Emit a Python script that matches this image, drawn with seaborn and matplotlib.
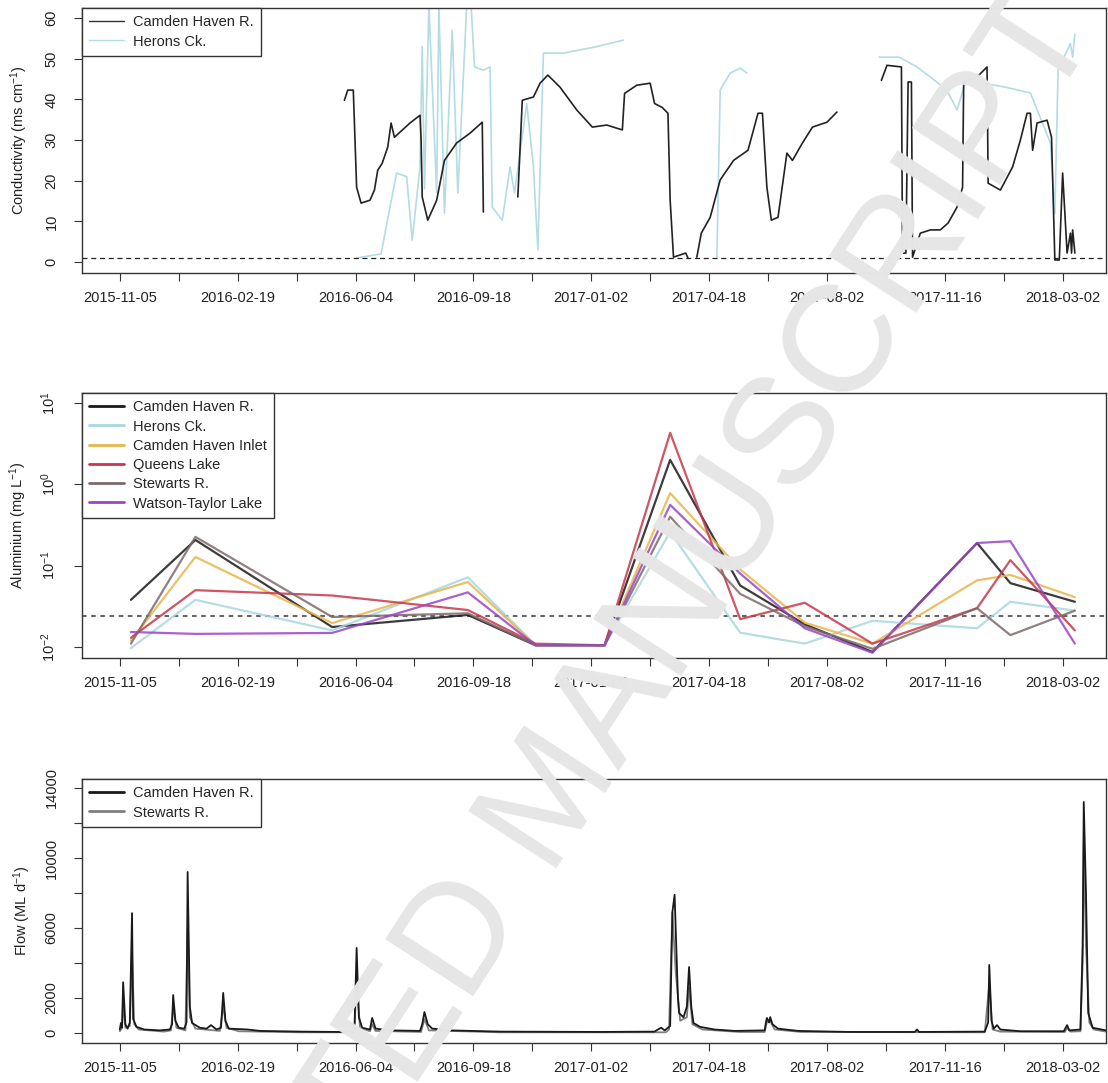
import numpy as np
import pandas as pd
import matplotlib
matplotlib.use("Agg")
import matplotlib.pyplot as plt
from matplotlib.lines import Line2D
import seaborn as sns

NA = np.nan

# ---------------- Conductivity (ms cm-1) ----------------
camden_cond_dates = [
    "2016-05-25", "2016-05-28", "2016-06-02", "2016-06-05", "2016-06-09", "2016-06-17",
    "2016-06-21", "2016-06-24", "2016-06-28", "2016-07-03", "2016-07-06", "2016-07-09",
    "2016-07-23", "2016-08-01", "2016-08-02", "2016-08-03", "2016-08-08", "2016-08-16",
    "2016-08-23", "2016-09-03", "2016-09-15", "2016-09-26", "2016-09-27", "2016-10-10",
    "2016-10-28", "2016-11-01", "2016-11-11", "2016-11-17", "2016-11-24", "2016-12-05",
    "2016-12-20", "2017-01-03", "2017-01-16", "2017-01-30", "2017-02-01", "2017-02-12",
    "2017-02-24", "2017-02-28", "2017-03-07", "2017-03-12", "2017-03-14", "2017-03-17",
    "2017-03-28", "2017-03-30", "2017-04-03", "2017-04-07", "2017-04-11", "2017-04-19",
    "2017-04-28", "2017-05-10", "2017-05-23", "2017-06-01", "2017-06-05", "2017-06-09",
    "2017-06-13", "2017-06-19", "2017-06-27", "2017-07-02", "2017-07-11", "2017-07-20",
    "2017-08-02", "2017-08-11", "2017-09-01", "2017-09-20", "2017-09-25", "2017-10-08",
    "2017-10-09", "2017-10-12", "2017-10-14", "2017-10-17", "2017-10-18", "2017-10-25",
    "2017-11-03", "2017-11-12", "2017-11-19", "2017-11-27", "2017-12-02", "2017-12-03",
    "2017-12-15", "2017-12-24", "2017-12-25", "2018-01-05", "2018-01-16", "2018-01-23",
    "2018-01-29", "2018-02-01", "2018-02-03", "2018-02-07", "2018-02-16", "2018-02-20",
    "2018-02-23", "2018-02-27", "2018-03-02", "2018-03-06", "2018-03-09", "2018-03-10",
    "2018-03-11", "2018-03-13",
]
camden_cond_values = [
    39.8, 42.3, 42.3, 18.4, 14.5, 15.2,
    17.7, 22.6, 24.3, 28.3, 34.2, 30.7,
    34.2, 36.1, 30.0, 16.0, 10.3, 15.2,
    25.0, 29.3, 31.7, 34.4, 12.3, NA,
    16.0, 39.8, 40.6, 44.0, 46.0, 43.0,
    37.4, 33.2, 33.7, 32.5, 41.5, 43.5,
    44.0, 39.0, 38.0, 36.6, 15.2, 1.2,
    2.2, 1.0, NA, 1.2, 7.1, 11.0,
    20.2, 25.0, 27.5, 36.6, 36.6, 18.4,
    10.3, 11.0, 26.8, 25.0, 29.3, 33.2,
    34.4, 36.9, NA, 44.7, 48.4, 48.0,
    2.2, 2.2, 44.3, 44.3, 1.2, 7.1,
    7.9, 7.9, 9.6, 13.5, 18.4, 44.3,
    45.5, 48.0, 19.4, 17.7, 23.4, 30.0,
    36.6, 36.6, 27.5, 34.2, 34.9, 30.7,
    0.5, 0.5, 21.9, 2.2, 7.1, 2.2,
    7.9, 2.2,
]

herons_cond_dates = [
    "2016-06-05", "2016-06-27", "2016-07-05", "2016-07-11", "2016-07-20", "2016-07-25",
    "2016-08-01", "2016-08-03", "2016-08-05", "2016-08-09", "2016-08-16", "2016-08-18",
    "2016-08-23", "2016-08-30", "2016-09-04", "2016-09-12", "2016-09-16", "2016-09-19",
    "2016-09-27", "2016-10-03", "2016-10-05", "2016-10-14", "2016-10-21", "2016-10-25",
    "2016-11-05", "2016-11-11", "2016-11-15", "2016-11-20", "2016-12-08", "2017-01-07",
    "2017-01-31", "2017-03-15", "2017-04-25", "2017-04-28", "2017-05-07", "2017-05-16",
    "2017-05-22", "2017-07-15", "2017-09-18", "2017-10-06", "2017-10-22", "2017-11-03",
    "2017-11-18", "2017-11-27", "2017-12-06", "2017-12-20", "2018-01-10", "2018-02-01",
    "2018-02-19", "2018-02-23", "2018-02-26", "2018-03-02", "2018-03-09", "2018-03-11",
    "2018-03-13",
]
herons_cond_values = [
    1.0, 2.0, 13.5, 21.9, 21.0, 5.4,
    23.4, 53.0, 18.0, 63.0, 17.0, 63.0,
    12.0, 57.0, 17.0, 63.0, 63.0, 48.0,
    47.2, 48.0, 13.5, 10.3, 23.4, 17.0,
    39.0, 23.4, 3.0, 51.4, 51.4, 53.0,
    54.6, NA, 1.2, 42.3, 46.5, 47.7,
    46.5, NA, 50.4, 50.4, 48.0, 45.5,
    42.3, 37.4, 45.5, 44.0, 43.0, 41.6,
    29.3, 12.0, 48.0, 49.7, 53.8, 50.4,
    56.0,
]
cond_guideline = 1.0

# ---------------- Aluminium (mg L-1) ----------------
al_dates = [
    "2015-11-15", "2016-01-12", "2016-05-14", "2016-09-13", "2016-11-13", "2017-01-14",
    "2017-03-14", "2017-05-16", "2017-07-13", "2017-09-12", "2017-12-15", "2018-01-14",
    "2018-03-13",
]
al_sites = ["Camden Haven R.", "Herons Ck.", "Camden Haven Inlet", "Queens Lake",
            "Stewarts R.", "Watson-Taylor Lake"]
al_camden = [0.038, 0.207, 0.0176, 0.0248, 0.0105, 0.0105, 2.0, 0.057, 0.019, 0.0087, 0.19, 0.061, 0.036]
al_herons = [0.0097, 0.038, 0.016, 0.072, 0.0105, 0.0105, 0.26, 0.015, 0.011, 0.021, 0.017, 0.036, 0.028]
al_inlet = [0.012, 0.128, 0.0197, 0.063, 0.0105, 0.0105, 0.78, 0.09, 0.02, 0.011, 0.066, 0.077, 0.041]
al_queens = [0.013, 0.050, 0.043, 0.0285, 0.011, 0.0105, 4.3, 0.022, 0.035, 0.011, 0.030, 0.117, 0.016]
al_stewarts = [0.011, 0.226, 0.0234, 0.026, 0.0105, 0.0105, 0.40, 0.045, 0.018, 0.0095, 0.030, 0.014, 0.028]
al_watson = [0.0153, 0.0145, 0.0149, 0.047, 0.0105, 0.0105, 0.56, 0.08, 0.017, 0.0085, 0.19, 0.20, 0.011]
al_guideline = 0.024

# ---------------- Flow (ML d-1) ----------------
camden_flow_dates = [
    "2015-11-05", "2015-11-06", "2015-11-07", "2015-11-08", "2015-11-10", "2015-11-12",
    "2015-11-14", "2015-11-16", "2015-11-17", "2015-11-20", "2015-11-27", "2015-12-11",
    "2015-12-20", "2015-12-22", "2015-12-23", "2015-12-25", "2015-12-28", "2016-01-02",
    "2016-01-04", "2016-01-05", "2016-01-07", "2016-01-09", "2016-01-16", "2016-01-22",
    "2016-01-26", "2016-01-31", "2016-02-04", "2016-02-06", "2016-02-08", "2016-02-11",
    "2016-02-28", "2016-03-10", "2016-04-15", "2016-05-21", "2016-06-03", "2016-06-05",
    "2016-06-07", "2016-06-10", "2016-06-17", "2016-06-19", "2016-06-22", "2016-07-05",
    "2016-08-01", "2016-08-03", "2016-08-05", "2016-08-08", "2016-08-12", "2016-08-28",
    "2016-10-12", "2017-01-10", "2017-02-28", "2017-03-03", "2017-03-06", "2017-03-09",
    "2017-03-14", "2017-03-16", "2017-03-18", "2017-03-21", "2017-03-22", "2017-03-26",
    "2017-03-29", "2017-03-31", "2017-04-02", "2017-04-04", "2017-04-10", "2017-04-23",
    "2017-05-11", "2017-06-07", "2017-06-08", "2017-06-09", "2017-06-11", "2017-06-12",
    "2017-06-14", "2017-06-19", "2017-07-07", "2017-08-23", "2017-10-20", "2017-10-22",
    "2017-10-24", "2017-12-22", "2017-12-25", "2017-12-26", "2017-12-28", "2017-12-30",
    "2018-01-02", "2018-01-05", "2018-01-23", "2018-03-03", "2018-03-06", "2018-03-08",
    "2018-03-18", "2018-03-20", "2018-03-21", "2018-03-23", "2018-03-25", "2018-03-29",
    "2018-04-10",
]
camden_flow_values = [
    200, 570, 300, 2900, 500, 250,
    600, 6850, 800, 350, 200, 150,
    200, 500, 2170, 700, 300, 250,
    600, 9200, 1500, 570, 300, 250,
    450, 200, 300, 2290, 700, 250,
    200, 120, 80, 60, 80, 4860,
    900, 300, 200, 860, 250, 150,
    120, 500, 1200, 500, 250, 150,
    80, 60, 80, 200, 300, 150,
    400, 6900, 7900, 2000, 1140, 900,
    1500, 3770, 1500, 570, 350, 200,
    120, 150, 570, 860, 600, 910,
    500, 250, 120, 60, 60, 200,
    60, 80, 600, 3890, 700, 250,
    450, 200, 100, 100, 450, 150,
    200, 5000, 13200, 8000, 1140, 300,
    150,
]
stewarts_flow_dates = [
    "2015-11-05", "2015-11-07", "2015-11-08", "2015-11-10", "2015-11-14", "2015-11-16",
    "2015-11-18", "2015-11-22", "2015-12-15", "2015-12-21", "2015-12-23", "2015-12-26",
    "2016-01-03", "2016-01-05", "2016-01-07", "2016-01-12", "2016-02-03", "2016-02-06",
    "2016-02-09", "2016-02-20", "2016-04-15", "2016-06-03", "2016-06-05", "2016-06-08",
    "2016-06-17", "2016-06-19", "2016-06-22", "2016-08-02", "2016-08-05", "2016-08-09",
    "2016-10-12", "2017-03-10", "2017-03-13", "2017-03-16", "2017-03-19", "2017-03-23",
    "2017-03-29", "2017-03-31", "2017-04-03", "2017-04-12", "2017-05-15", "2017-06-07",
    "2017-06-09", "2017-06-12", "2017-06-16", "2017-07-10", "2017-12-22", "2017-12-26",
    "2017-12-29", "2018-01-05", "2018-03-04", "2018-03-06", "2018-03-09", "2018-03-18",
    "2018-03-20", "2018-03-21", "2018-03-23", "2018-03-26", "2018-03-30", "2018-04-10",
]
stewarts_flow_values = [
    100, 300, 1800, 300, 400, 4500,
    500, 200, 80, 150, 1500, 300,
    150, 6000, 900, 250, 120, 1500,
    300, 100, 40, 40, 3200, 300,
    100, 500, 120, 60, 800, 150,
    40, 40, 200, 6900, 3500, 700,
    900, 2600, 500, 200, 60, 60,
    600, 700, 200, 60, 40, 2800,
    200, 80, 60, 300, 80, 100,
    4000, 11000, 5000, 600, 200, 80,
]

# ---------------- axis settings ----------------
x_start = "2015-10-02"
x_end = "2018-04-10"
tick_start = "2015-11-05"

colors = {
    "Camden Haven R.": "#1a1a1a",
    "Herons Ck.": "#a9d6e0",
    "Camden Haven Inlet": "#e8b54c",
    "Queens Lake": "#c8374a",
    "Stewarts R.": "#7d6a6a",
    "Watson-Taylor Lake": "#9a45c8",
}

sns.set_theme(style="ticks")
plt.rcParams["font.family"] = ["Liberation Sans", "DejaVu Sans"]
plt.rcParams["mathtext.fontset"] = "custom"
plt.rcParams["mathtext.rm"] = "Liberation Sans"
plt.rcParams["mathtext.it"] = "Liberation Sans:italic"
plt.rcParams["mathtext.default"] = "regular"

FS = 10.5
W, H = 1108, 1083
fig = plt.figure(figsize=(W / 100, H / 100), dpi=100)


def rect(top, bottom, left=82, right=1106):
    return [left / W, 1 - bottom / H, (right - left) / W, (bottom - top) / H]


ax1 = fig.add_axes(rect(8, 273))
ax2 = fig.add_axes(rect(393, 658))
ax3 = fig.add_axes(rect(779, 1043))


def seg_frame(dates, values, name):
    v = np.array(values, dtype=float)
    df = pd.DataFrame({"date": pd.to_datetime(dates), "value": v, "site": name,
                       "seg": np.cumsum(np.isnan(v))})
    return df.dropna()


tick_dates = pd.date_range(tick_start, periods=17, freq="53D")
tick_labels = [d.strftime("%Y-%m-%d") if i % 2 == 0 else "" for i, d in enumerate(tick_dates)]


def style(ax):
    ax.set_xlim(pd.Timestamp(x_start), pd.Timestamp(x_end))
    ax.set_xticks(tick_dates)
    ax.set_xticklabels(tick_labels)
    ax.tick_params(axis="both", direction="out", length=6, width=0.8, color="#333333",
                   labelsize=FS, labelcolor="#222222")
    ax.tick_params(axis="x", pad=7)
    ax.tick_params(axis="y", pad=11, labelrotation=90)
    for lab in ax.get_yticklabels():
        lab.set_va("center")
    for s in ax.spines.values():
        s.set_visible(True)
        s.set_color("#333333")
        s.set_linewidth(1.0)
    ax.set_xlabel("")
    ax.grid(False)


def legend(ax, names, lw, cols):
    handles = [Line2D([0], [0], color=cols[n], lw=lw) for n in names]
    leg = ax.legend(handles, names, loc="upper left", borderaxespad=0, frameon=True,
                    fancybox=False, framealpha=1, edgecolor="#333333", fontsize=FS,
                    handlelength=2.4, handletextpad=0.6, labelspacing=0.36,
                    borderpad=0.5)
    leg.get_frame().set_linewidth(1.0)
    leg.set_zorder(5)


# ---- Panel 1: conductivity ----
df_h = seg_frame(herons_cond_dates, herons_cond_values, "Herons Ck.")
df_c = seg_frame(camden_cond_dates, camden_cond_values, "Camden Haven R.")
sns.lineplot(data=df_h, x="date", y="value", units="seg", estimator=None,
             color="#b3dce4", lw=1.2, ax=ax1, legend=False)
sns.lineplot(data=df_c, x="date", y="value", units="seg", estimator=None,
             color="#222222", lw=1.2, ax=ax1, legend=False)
ax1.axhline(cond_guideline, color="#222222", ls=(0, (4, 3)), lw=0.9)
ax1.set_ylim(-2.7, 62.5)
ax1.set_yticks([0, 10, 20, 30, 40, 50, 60])
ax1.set_ylabel("Conductivity (ms cm$^{-1}$)", fontsize=FS, labelpad=10, color="#222222")
style(ax1)
legend(ax1, ["Camden Haven R.", "Herons Ck."], 1.0,
       {"Camden Haven R.": "#333333", "Herons Ck.": "#b3dce4"})

# ---- Panel 2: aluminium ----
al_table = {"Camden Haven R.": al_camden, "Herons Ck.": al_herons,
            "Camden Haven Inlet": al_inlet, "Queens Lake": al_queens,
            "Stewarts R.": al_stewarts, "Watson-Taylor Lake": al_watson}
df_al = pd.concat([pd.DataFrame({"date": pd.to_datetime(al_dates), "value": v, "site": k})
                   for k, v in al_table.items()])
sns.lineplot(data=df_al, x="date", y="value", hue="site", hue_order=al_sites,
             palette=colors, estimator=None, lw=1.6, alpha=0.85, ax=ax2, legend=False)
ax2.axhline(al_guideline, color="#666666", ls=(0, (2.2, 2.2)), lw=1.5, zorder=1)
ax2.set_yscale("log")
ax2.set_ylim(10 ** -2.135, 10 ** 1.123)
ax2.set_yticks([0.01, 0.1, 1, 10])
ax2.set_yticklabels(["$10^{-2}$", "$10^{-1}$", "$10^{0}$", "$10^{1}$"])
ax2.minorticks_off()
ax2.set_ylabel("Aluminium (mg L$^{-1}$)", fontsize=FS, labelpad=8, color="#222222")
style(ax2)
ax2.yaxis.set_minor_locator(matplotlib.ticker.NullLocator())
legend(ax2, al_sites, 2.0, colors)

# ---- Panel 3: flow ----
df_fs = seg_frame(stewarts_flow_dates, stewarts_flow_values, "Stewarts R.")
df_fc = seg_frame(camden_flow_dates, camden_flow_values, "Camden Haven R.")
sns.lineplot(data=df_fs, x="date", y="value", units="seg", estimator=None,
             color="#7f7f7f", lw=1.3, ax=ax3, legend=False)
sns.lineplot(data=df_fc, x="date", y="value", units="seg", estimator=None,
             color="#1a1a1a", lw=1.3, ax=ax3, legend=False)
ax3.set_ylim(-571, 14514)
ax3.set_yticks(np.arange(0, 14001, 2000))
ax3.set_yticklabels(["0", "2000", "", "6000", "", "10000", "", "14000"])
ax3.set_ylabel("Flow (ML d$^{-1}$)", fontsize=FS, labelpad=8, color="#222222")
style(ax3)
legend(ax3, ["Camden Haven R.", "Stewarts R."], 2.0,
       {"Camden Haven R.": "#1a1a1a", "Stewarts R.": "#7f7f7f"})

# watermark
fig.text(555 / W, 1 - 800 / H, "ACCEPTED MANUSCRIPT", rotation=57, fontsize=110,
         color="#e6e6e6", ha="center", va="center", zorder=20,
         family=["Liberation Sans", "DejaVu Sans"])

fig.savefig("out.png", dpi=100)
